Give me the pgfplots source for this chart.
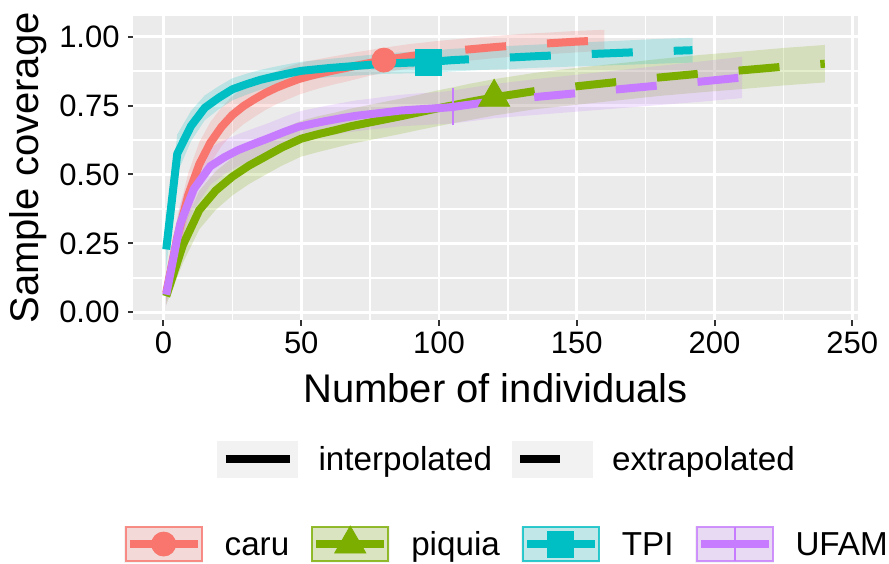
\documentclass[border=0pt]{standalone}
\usepackage{pgfplots}
\pgfplotsset{compat=1.18}
\usepackage{pgfplotstable}
\usepgfplotslibrary{fillbetween}
\usepackage{fontspec}
\setmainfont{Liberation Sans}
\definecolor{caruc}{HTML}{F8766D}
\definecolor{piqc}{HTML}{7CAE00}
\definecolor{tpic}{HTML}{00BFC4}
\definecolor{ufamc}{HTML}{C77CFF}
\definecolor{panel}{HTML}{EBEBEB}
\definecolor{keybg}{HTML}{F2F2F2}
\definecolor{tickc}{HTML}{333333}

\pgfplotstableread{
x y lo hi
1 0.070 0.040 0.100
5 0.272 0.202 0.342
9 0.425 0.345 0.505
13 0.537 0.457 0.617
17 0.615 0.540 0.690
21 0.672 0.602 0.742
25 0.716 0.648 0.784
29 0.748 0.682 0.814
33 0.773 0.709 0.837
37 0.796 0.734 0.858
41 0.815 0.755 0.875
45 0.831 0.772 0.890
49 0.846 0.789 0.903
53 0.857 0.802 0.912
57 0.867 0.814 0.920
62 0.878 0.827 0.929
66 0.886 0.836 0.936
70 0.895 0.846 0.944
74 0.903 0.856 0.950
78 0.911 0.865 0.957
80 0.915 0.870 0.960
90 0.930 0.886 0.974
100 0.943 0.901 0.985
110 0.953 0.912 0.994
120 0.962 0.922 1.002
130 0.970 0.930 1.010
140 0.976 0.937 1.015
150 0.982 0.943 1.021
160 0.987 0.949 1.025
}\caru

\pgfplotstableread{
x y lo hi
1 0.058 0.028 0.088
7 0.243 0.178 0.308
13 0.371 0.301 0.441
19 0.442 0.372 0.512
25 0.492 0.424 0.560
31 0.532 0.465 0.599
37 0.565 0.499 0.631
43 0.598 0.532 0.664
50 0.630 0.565 0.695
56 0.646 0.581 0.711
62 0.660 0.596 0.724
68 0.675 0.611 0.739
74 0.687 0.623 0.751
80 0.699 0.635 0.763
86 0.711 0.647 0.775
93 0.726 0.662 0.790
99 0.739 0.674 0.804
105 0.751 0.686 0.816
111 0.763 0.697 0.829
117 0.774 0.708 0.840
120 0.780 0.714 0.846
135 0.803 0.737 0.869
150 0.820 0.753 0.887
165 0.836 0.769 0.903
180 0.852 0.785 0.919
195 0.866 0.798 0.934
210 0.878 0.810 0.946
225 0.891 0.823 0.959
240 0.902 0.834 0.970
}\piquia

\pgfplotstableread{
x y lo hi
1 0.228 0.158 0.298
5 0.575 0.505 0.645
10 0.676 0.621 0.731
15 0.742 0.697 0.787
20 0.778 0.736 0.820
25 0.809 0.769 0.849
30 0.827 0.789 0.865
35 0.843 0.807 0.879
40 0.855 0.820 0.890
45 0.866 0.832 0.900
50 0.876 0.843 0.909
55 0.881 0.848 0.914
60 0.886 0.853 0.919
65 0.890 0.856 0.924
70 0.894 0.859 0.929
75 0.898 0.862 0.934
80 0.902 0.865 0.939
85 0.904 0.866 0.942
90 0.906 0.867 0.945
96 0.908 0.868 0.948
105 0.915 0.874 0.956
115 0.920 0.879 0.961
125 0.924 0.882 0.966
135 0.929 0.887 0.971
150 0.935 0.892 0.978
165 0.941 0.897 0.985
180 0.947 0.902 0.992
192 0.951 0.906 0.996
}\tpi

\pgfplotstableread{
x y lo hi
1 0.064 0.024 0.104
6 0.318 0.243 0.393
11 0.447 0.372 0.522
17 0.530 0.462 0.598
22 0.562 0.500 0.624
27 0.588 0.530 0.646
33 0.612 0.556 0.668
38 0.631 0.576 0.686
44 0.655 0.600 0.710
49 0.673 0.618 0.728
54 0.684 0.629 0.739
59 0.694 0.639 0.749
65 0.705 0.650 0.760
70 0.713 0.657 0.769
76 0.720 0.664 0.776
81 0.726 0.669 0.783
86 0.732 0.675 0.789
92 0.736 0.678 0.794
97 0.739 0.681 0.797
103 0.743 0.684 0.802
105 0.745 0.685 0.805
120 0.766 0.704 0.828
135 0.781 0.716 0.846
150 0.795 0.728 0.862
165 0.809 0.740 0.878
180 0.823 0.752 0.894
195 0.837 0.764 0.910
210 0.852 0.777 0.927
}\ufam

\pgfplotsset{
  /pgf/number format/assume math mode=true,
  legendrow/.style={
    legend style={
      anchor=center, draw=none, fill=none,
      inner sep=0pt, inner xsep=0pt, inner ysep=0pt, outer sep=0pt,
      column sep=0pt,
      font=\fontsize{16.6}{20}\selectfont,
      nodes={inner sep=0pt, text height=11.9pt, text depth=0pt},
    },
    legend cell align=left,
    legend columns=-1,
  },
}

\begin{document}
\begin{tikzpicture}
\begin{axis}[
  at={(0pt,0pt)}, anchor=south west,
  scale only axis, width=362.2pt, height=152pt,
  xmin=-10.95, xmax=251.95, ymin=-0.028, ymax=1.075,
  axis background/.style={fill=panel},
  axis line style={draw=none},
  xtick={0,50,100,150,200,250},
  minor xtick={25,75,125,175,225},
  ytick={0,0.25,0.5,0.75,1},
  minor ytick={0.125,0.375,0.625,0.875},
  grid=both,
  major grid style={white, line width=1.3pt},
  minor grid style={white, line width=0.7pt},
  tick align=outside, tick pos=left,
  major tick length=2.75pt, minor tick length=0pt,
  tick style={draw=tickc, line width=1pt},
  ticklabel style={font=\fontsize{15.5}{18}\selectfont, text=black},
  xticklabel style={anchor=north, inner sep=0pt, yshift=-3.1pt},
  yticklabel style={anchor=east, inner sep=0pt, xshift=-3.9pt,
    /pgf/number format/.cd, fixed, fixed zerofill, precision=2},
  xlabel={Number of individuals},
  ylabel={Sample coverage},
  every axis x label/.style={at={(axis description cs:0.5,-0.2730)}, anchor=base, font=\fontsize{20}{24}\selectfont},
  every axis y label/.style={at={(axis description cs:-0.1311,0.5)}, rotate=90, anchor=base, font=\fontsize{20}{24}\selectfont},
  legendrow,
  legend style={at={(axis description cs:0.5145,-0.737)}},
]
% observed points
\addplot[only marks, mark=*, mark size=6pt, color=caruc, forget plot] coordinates {(80,0.915)};
\addplot[only marks, mark=triangle*, mark size=9pt, color=piqc, forget plot] coordinates {(120,0.780)};
\addplot[only marks, mark=square*, mark size=6.5pt, color=tpic, forget plot] coordinates {(96,0.908)};
\addplot[only marks, mark=|, mark size=9.25pt, color=ufamc, mark options={line width=1pt}, forget plot] coordinates {(105,0.745)};
% lines
\addplot[caruc, line width=4pt, line join=round, restrict x to domain=1:80, forget plot] table[x=x,y=y]{\caru};
\addplot[caruc, line width=4pt, line join=round, dash pattern=on 20.5pt off 20.5pt, restrict x to domain=80:160, forget plot] table[x=x,y=y]{\caru};
\addplot[piqc, line width=4pt, line join=round, restrict x to domain=1:120, forget plot] table[x=x,y=y]{\piquia};
\addplot[piqc, line width=4pt, line join=round, dash pattern=on 20.5pt off 20.5pt, restrict x to domain=120:240, forget plot] table[x=x,y=y]{\piquia};
\addplot[tpic, line width=4pt, line join=round, restrict x to domain=1:96, forget plot] table[x=x,y=y]{\tpi};
\addplot[tpic, line width=4pt, line join=round, dash pattern=on 20.5pt off 20.5pt, restrict x to domain=96:192, forget plot] table[x=x,y=y]{\tpi};
\addplot[ufamc, line width=4pt, line join=round, restrict x to domain=1:105, forget plot] table[x=x,y=y]{\ufam};
\addplot[ufamc, line width=4pt, line join=round, dash pattern=on 20.5pt off 20.5pt, restrict x to domain=105:210, forget plot] table[x=x,y=y]{\ufam};
% ribbons
\addplot[draw=none, name path=cU, forget plot] table[x=x,y=hi]{\caru};
\addplot[draw=none, name path=cL, forget plot] table[x=x,y=lo]{\caru};
\addplot[fill=caruc, fill opacity=0.2, draw=none, forget plot] fill between[of=cU and cL];
\addplot[draw=none, name path=pU, forget plot] table[x=x,y=hi]{\piquia};
\addplot[draw=none, name path=pL, forget plot] table[x=x,y=lo]{\piquia};
\addplot[fill=piqc, fill opacity=0.2, draw=none, forget plot] fill between[of=pU and pL];
\addplot[draw=none, name path=tU, forget plot] table[x=x,y=hi]{\tpi};
\addplot[draw=none, name path=tL, forget plot] table[x=x,y=lo]{\tpi};
\addplot[fill=tpic, fill opacity=0.2, draw=none, forget plot] fill between[of=tU and tL];
\addplot[draw=none, name path=uU, forget plot] table[x=x,y=hi]{\ufam};
\addplot[draw=none, name path=uL, forget plot] table[x=x,y=lo]{\ufam};
\addplot[fill=ufamc, fill opacity=0.2, draw=none, forget plot] fill between[of=uU and uL];
% legend (sites)
\addlegendimage{legend image code/.code={
  \path[draw=none, fill=none] (0pt,0pt) -- (50pt,0pt);
  \fill[keybg] (0pt,-9pt) rectangle (39pt,9pt);
  \draw[caruc, line width=4pt] (2.5pt,0pt) -- (36.5pt,0pt);
  \draw[caruc, mark=*, mark size=6pt] plot coordinates {(19.5pt,0pt)};
  \draw[draw=caruc, draw opacity=0.8, fill=caruc, fill opacity=0.2, line width=1pt] (0.5pt,-8.5pt) rectangle (38.5pt,8.5pt);
}}
\addlegendentry{caru}
\addlegendimage{legend image code/.code={
  \path[draw=none, fill=none] (-11pt,0pt) -- (50pt,0pt);
  \fill[keybg] (0pt,-9pt) rectangle (39pt,9pt);
  \draw[piqc, line width=4pt] (2.5pt,0pt) -- (36.5pt,0pt);
  \draw[piqc, mark=triangle*, mark size=9pt] plot coordinates {(19.5pt,0pt)};
  \draw[draw=piqc, draw opacity=0.8, fill=piqc, fill opacity=0.2, line width=1pt] (0.5pt,-8.5pt) rectangle (38.5pt,8.5pt);
}}
\addlegendentry{piquia}
\addlegendimage{legend image code/.code={
  \path[draw=none, fill=none] (-11pt,0pt) -- (50pt,0pt);
  \fill[keybg] (0pt,-9pt) rectangle (39pt,9pt);
  \draw[tpic, line width=4pt] (2.5pt,0pt) -- (36.5pt,0pt);
  \draw[tpic, mark=square*, mark size=6.5pt] plot coordinates {(19.5pt,0pt)};
  \draw[draw=tpic, draw opacity=0.8, fill=tpic, fill opacity=0.2, line width=1pt] (0.5pt,-8.5pt) rectangle (38.5pt,8.5pt);
}}
\addlegendentry{TPI}
\addlegendimage{legend image code/.code={
  \path[draw=none, fill=none] (-11pt,0pt) -- (50pt,0pt);
  \fill[keybg] (0pt,-9pt) rectangle (39pt,9pt);
  \draw[ufamc, line width=4pt] (2.5pt,0pt) -- (36.5pt,0pt);
  \draw[ufamc, mark=|, mark size=8.5pt, mark options={line width=1pt}] plot coordinates {(19.5pt,0pt)};
  \draw[draw=ufamc, draw opacity=0.8, fill=ufamc, fill opacity=0.2, line width=1pt] (0.5pt,-8.5pt) rectangle (38.5pt,8.5pt);
}}
\addlegendentry{UFAM}
\end{axis}

\begin{axis}[
  at={(0pt,0pt)}, anchor=south west,
  scale only axis, width=362.2pt, height=152pt,
  xmin=0, xmax=1, ymin=0, ymax=1,
  hide axis,
  legendrow,
  legend style={at={(axis description cs:0.5145,-0.457)}},
]
\addplot[draw=none, forget plot] coordinates {(0,0) (1,1)};
\addlegendimage{legend image code/.code={
  \path[draw=none, fill=none] (0pt,0pt) -- (50.5pt,0pt);
  \fill[keybg] (0pt,-9pt) rectangle (40pt,9pt);
  \draw[black, line width=4pt] (4pt,0pt) -- (36pt,0pt);
}}
\addlegendentry{interpolated}
\addlegendimage{legend image code/.code={
  \path[draw=none, fill=none] (-10pt,0pt) -- (50pt,0pt);
  \fill[keybg] (0pt,-9pt) rectangle (40pt,9pt);
  \draw[black, line width=4pt, dash pattern=on 20pt off 20pt] (4pt,0pt) -- (36pt,0pt);
}}
\addlegendentry{extrapolated}
\end{axis}
\pgfresetboundingbox
\path[use as bounding box] (-66.65pt,-121.5pt) rectangle (377.85pt,160pt);
\end{tikzpicture}
\end{document}
